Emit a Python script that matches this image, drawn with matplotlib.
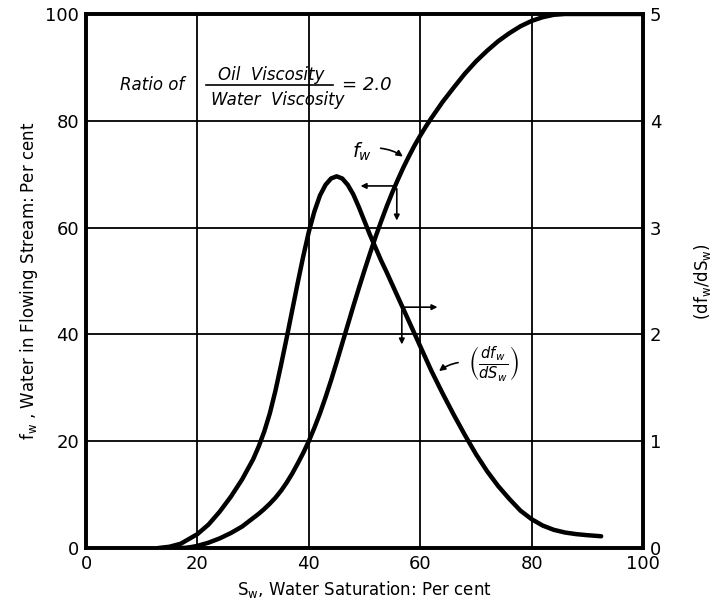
import matplotlib
matplotlib.use('Agg')
import matplotlib.pyplot as plt

# water saturation (%) and fractional flow of water (%) - left scale
sw_fw = [17, 18, 19, 20, 22, 24, 26, 28, 30, 31, 32, 33, 34, 35, 36, 37, 38, 39, 40, 41, 42,
         43, 44, 45, 46, 47, 48, 49, 50, 51, 52, 53, 54, 55, 56, 57, 58, 59, 60, 61, 62,
         64, 66, 68, 70, 72, 74, 76, 78, 80, 82, 84, 86, 100]
fw = [0, 0.05, 0.2, 0.4, 1.0, 1.8, 2.8, 4.0, 5.6, 6.4, 7.3, 8.3, 9.4, 10.7, 12.2, 13.9, 15.8,
      17.8, 20, 22.5, 25.2, 28.2, 31.4, 34.8, 38.3, 41.8, 45.3, 48.7, 52, 55.2, 58.3, 61.2,
      64, 66.6, 69, 71.3, 73.4, 75.4, 77.2, 78.9, 80.5, 83.5, 86.2, 88.8, 91.1, 93.1, 94.9,
      96.4, 97.7, 98.7, 99.4, 99.85, 100, 100]

# water saturation (%) and slope dfw/dSw - right scale
sw_dfw = [13, 15, 17, 20, 22, 24, 26, 28, 30, 31, 32, 33, 34, 35, 36, 37, 38, 39, 40, 41, 42,
          43, 44, 45, 46, 47, 48, 49, 50, 51, 52, 53, 54, 56, 58, 60, 62, 64, 66, 68, 70,
          72, 74, 76, 78, 80, 82, 84, 86, 88, 90, 92.5]
dfw = [0.0, 0.012, 0.04, 0.13, 0.22, 0.34, 0.48, 0.64, 0.83, 0.95, 1.09, 1.26, 1.47, 1.71,
       1.96, 2.22, 2.48, 2.73, 2.96, 3.15, 3.3, 3.4, 3.46, 3.48, 3.46, 3.4, 3.31, 3.19, 3.06,
       2.93, 2.81, 2.69, 2.58, 2.35, 2.12, 1.89, 1.66, 1.45, 1.25, 1.06, 0.88, 0.72, 0.58,
       0.46, 0.35, 0.27, 0.21, 0.17, 0.145, 0.13, 0.12, 0.11]

x_ticks = [0, 20, 40, 60, 80, 100]
left_ticks = [0, 20, 40, 60, 80, 100]
right_ticks = [0, 1, 2, 3, 4, 5]

fig = plt.figure(figsize=(7.18, 6.03), dpi=100)
ax = fig.add_axes([0.1198, 0.0912, 0.7757, 0.8856])
ax2 = ax.twinx()

ax.set_xlim(0, 100)
ax.set_ylim(0, 100)
ax2.set_ylim(0, 5)
ax.set_xticks(x_ticks)
ax.set_yticks(left_ticks)
ax2.set_yticks(right_ticks)
ax.grid(True, color='black', lw=1.3)
ax.set_axisbelow(True)

for a in (ax, ax2):
    for s in a.spines.values():
        s.set_linewidth(2.6)
    a.tick_params(length=0, labelsize=13, pad=5)

ax.plot(sw_fw, fw, color='black', lw=3.2, solid_capstyle='round', solid_joinstyle='round')
ax2.plot(sw_dfw, dfw, color='black', lw=3.2, solid_capstyle='round', solid_joinstyle='round')

ax.set_xlabel(r'S$_\mathrm{w}$, Water Saturation: Per cent', fontsize=12, labelpad=4)
ax.set_ylabel(r'f$_\mathrm{w}$ , Water in Flowing Stream: Per cent', fontsize=12, labelpad=4)
ax2.set_ylabel(r'(df$_\mathrm{w}$/dS$_\mathrm{w}$)', fontsize=12, labelpad=22)

# viscosity ratio note
ax.text(6.1, 86.7, 'Ratio of', fontsize=12, style='italic', va='center', ha='left')
ax.text(33.2, 88.6, 'Oil  Viscosity', fontsize=12, style='italic', va='center', ha='center')
ax.text(34.5, 83.9, 'Water  Viscosity', fontsize=12, style='italic', va='center', ha='center')
ax.plot([21.5, 44.3], [86.7, 86.7], color='black', lw=1.2)
ax.text(46.0, 86.7, '= 2.0', fontsize=13, style='italic', va='center', ha='left')

# curve labels
ax.text(49.6, 74.2, r'$f_w$', fontsize=14, ha='center', va='center')
ax.annotate('', xy=(57.3, 73.0), xytext=(52.4, 74.9),
            arrowprops=dict(arrowstyle='-|>', connectionstyle='arc3,rad=-0.15',
                            lw=1.2, color='black', mutation_scale=9))
ax.text(73.2, 34.5, r'$\left(\frac{df_w}{dS_w}\right)$', fontsize=15, ha='center', va='center')
ax.annotate('', xy=(63.0, 32.8), xytext=(67.3, 34.8),
            arrowprops=dict(arrowstyle='-|>', connectionstyle='arc3,rad=0.15',
                            lw=1.2, color='black', mutation_scale=9))

# which-scale indicators
arr = dict(arrowstyle='-|>', lw=1.2, color='black', mutation_scale=8)
ax.annotate('', xy=(48.8, 67.8), xytext=(55.8, 67.8), arrowprops=arr)
ax.annotate('', xy=(55.8, 60.8), xytext=(55.8, 67.8), arrowprops=arr)
ax.annotate('', xy=(63.6, 45.1), xytext=(56.7, 45.1), arrowprops=arr)
ax.annotate('', xy=(56.7, 37.6), xytext=(56.7, 45.1), arrowprops=arr)

fig.savefig('out.png', dpi=100)
